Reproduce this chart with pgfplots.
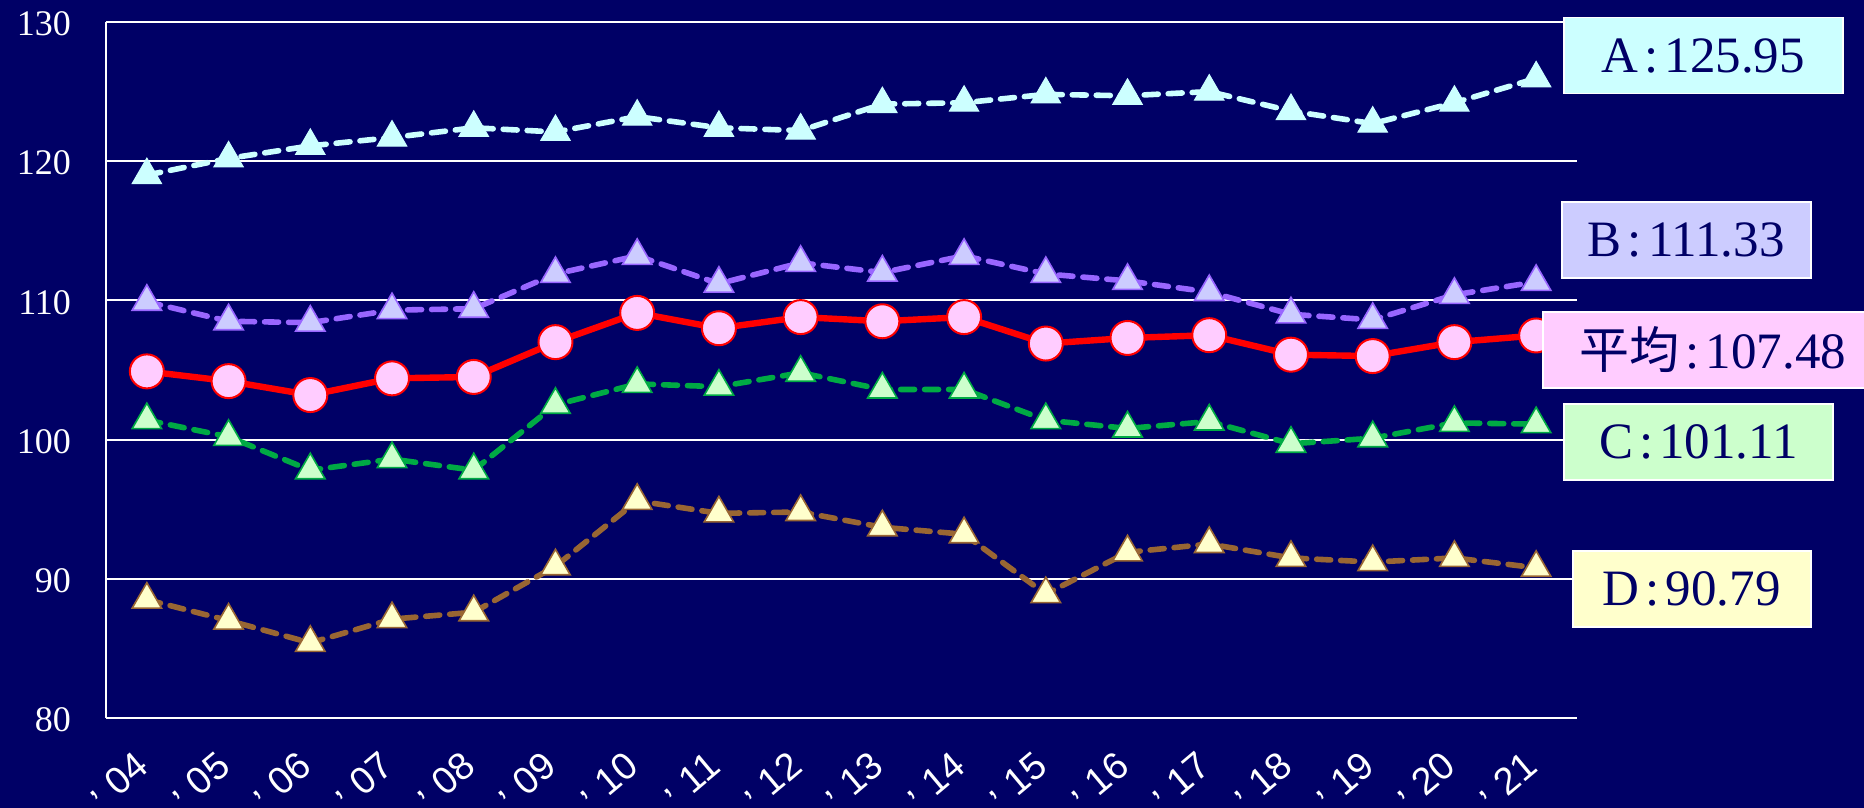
\documentclass[border=0pt]{standalone}
\usepackage{fontspec}
\setmainfont{Liberation Serif}
\newfontfamily\xfont{Liberation Sans}
\newfontfamily\cjk{Noto Sans CJK JP}
\usepackage{pgfplots}
\pgfplotsset{compat=1.18}

\definecolor{bgnavy}{HTML}{000066}
\definecolor{lineA}{HTML}{CCFFFF}
\definecolor{lineB}{HTML}{9966FF}
\definecolor{fillB}{HTML}{CCCCFF}
\definecolor{fillAvg}{HTML}{FFCCFF}
\definecolor{lineC}{HTML}{00AA44}
\definecolor{fillC}{HTML}{CCFFCC}
\definecolor{lineD}{HTML}{996633}
\definecolor{fillD}{HTML}{FFFFCC}

\newcommand{\yr}[1]{\raisebox{0.45em}{,}\hspace{0.3em}#1}

\begin{document}
\begin{tikzpicture}
\fill[bgnavy] (0,0) rectangle (932pt,404pt);
\path[use as bounding box] (0,0) rectangle (932pt,404pt);

\begin{axis}[
    at={(53pt,45pt)}, anchor=south west,
    scale only axis,
    width=735.5pt, height=348pt,
    xmin=-0.5, xmax=17.5,
    ymin=80, ymax=130,
    ytick={80,90,...,130},
    xtick={0,...,17},
    xticklabels={{\yr{04}},{\yr{05}},{\yr{06}},{\yr{07}},{\yr{08}},{\yr{09}},
                 {\yr{10}},{\yr{11}},{\yr{12}},{\yr{13}},{\yr{14}},{\yr{15}},
                 {\yr{16}},{\yr{17}},{\yr{18}},{\yr{19}},{\yr{20}},{\yr{21}}},
    axis x line*=bottom, axis y line*=left,
    axis line style={white, line width=1pt, -},
    major tick length=0pt,
    ymajorgrids,
    grid style={white, line width=1pt},
    /pgf/number format/assume math mode=true,
    yticklabel style={white, font=\fontsize{18}{20}\selectfont, xshift=-14pt, yshift=-1pt},
    xticklabel style={white, font=\xfont\fontsize{19}{21}\selectfont, inner sep=0pt,
                      xshift=2pt, yshift=-26pt, rotate=40, anchor=base east},
    clip=false,
]

% A
\addplot[lineA, line width=2.8pt, dash pattern=on 7pt off 5pt, line cap=round,
    mark=triangle*, mark size=8.5pt, mark options={solid, fill=lineA, draw=lineA, line width=0.5pt}]
coordinates {
 (0,119.0) (1,120.2) (2,121.1) (3,121.7) (4,122.4) (5,122.1) (6,123.2) (7,122.4) (8,122.2)
 (9,124.1) (10,124.2) (11,124.8) (12,124.7) (13,125.0) (14,123.6) (15,122.7) (16,124.2) (17,125.95)
};

% B
\addplot[lineB, line width=2.8pt, dash pattern=on 7pt off 5pt, line cap=round,
    mark=triangle*, mark size=8.5pt, mark options={solid, fill=fillB, draw=lineB, line width=0.8pt}]
coordinates {
 (0,109.9) (1,108.5) (2,108.4) (3,109.3) (4,109.4) (5,111.9) (6,113.2) (7,111.2) (8,112.7)
 (9,112.0) (10,113.2) (11,111.9) (12,111.4) (13,110.6) (14,109.0) (15,108.6) (16,110.4) (17,111.33)
};

% C
\addplot[lineC, line width=2.8pt, dash pattern=on 7pt off 5pt, line cap=round,
    mark=triangle*, mark size=8.5pt, mark options={solid, fill=fillC, draw=lineC, line width=0.8pt}]
coordinates {
 (0,101.4) (1,100.2) (2,97.8) (3,98.6) (4,97.8) (5,102.5) (6,104.0) (7,103.8) (8,104.8)
 (9,103.6) (10,103.6) (11,101.4) (12,100.8) (13,101.3) (14,99.7) (15,100.1) (16,101.2) (17,101.11)
};

% D
\addplot[lineD, line width=2.8pt, dash pattern=on 7pt off 5pt, line cap=round,
    mark=triangle*, mark size=8.5pt, mark options={solid, fill=fillD, draw=lineD, line width=0.8pt}]
coordinates {
 (0,88.5) (1,87.0) (2,85.4) (3,87.1) (4,87.6) (5,90.9) (6,95.6) (7,94.7) (8,94.8)
 (9,93.7) (10,93.2) (11,88.9) (12,91.9) (13,92.5) (14,91.5) (15,91.2) (16,91.5) (17,90.79)
};

% average
\addplot[red, line width=3.2pt,
    mark=*, mark size=8.5pt, mark options={fill=fillAvg, draw=red, line width=1pt}]
coordinates {
 (0,104.9) (1,104.2) (2,103.2) (3,104.4) (4,104.5) (5,107.0) (6,109.1) (7,108.0) (8,108.8)
 (9,108.5) (10,108.8) (11,106.9) (12,107.3) (13,107.5) (14,106.1) (15,106.0) (16,107.0) (17,107.48)
};
\end{axis}

% value boxes
\tikzset{vbox/.style={draw=white, line width=0.8pt, text=bgnavy, anchor=west,
    inner xsep=10pt, inner ysep=0pt, minimum height=38pt,
    font=\fontsize{25.5}{28}\selectfont}}
\newcommand{\cl}{\kern3pt:\kern3pt}
\node[vbox, fill=lineA, minimum width=139.5pt, inner xsep=8pt] at (781.5pt,376.25pt) {A\cl 125.95};
\node[vbox, fill=fillB, minimum width=124.5pt, inner xsep=7pt] at (780.5pt,284pt) {B\cl 111.33};
\node[vbox, fill=fillAvg, minimum width=170pt, inner xsep=8pt] at (771pt,229pt) {{\cjk\fontsize{25}{28}\selectfont 平均}\cl 107.48};
\node[vbox, fill=fillC, minimum width=134.5pt] at (781.5pt,183pt) {C\cl 101.11};
\node[vbox, fill=fillD, minimum width=119pt] at (786pt,109.5pt) {D\cl 90.79};
\end{tikzpicture}
\end{document}
